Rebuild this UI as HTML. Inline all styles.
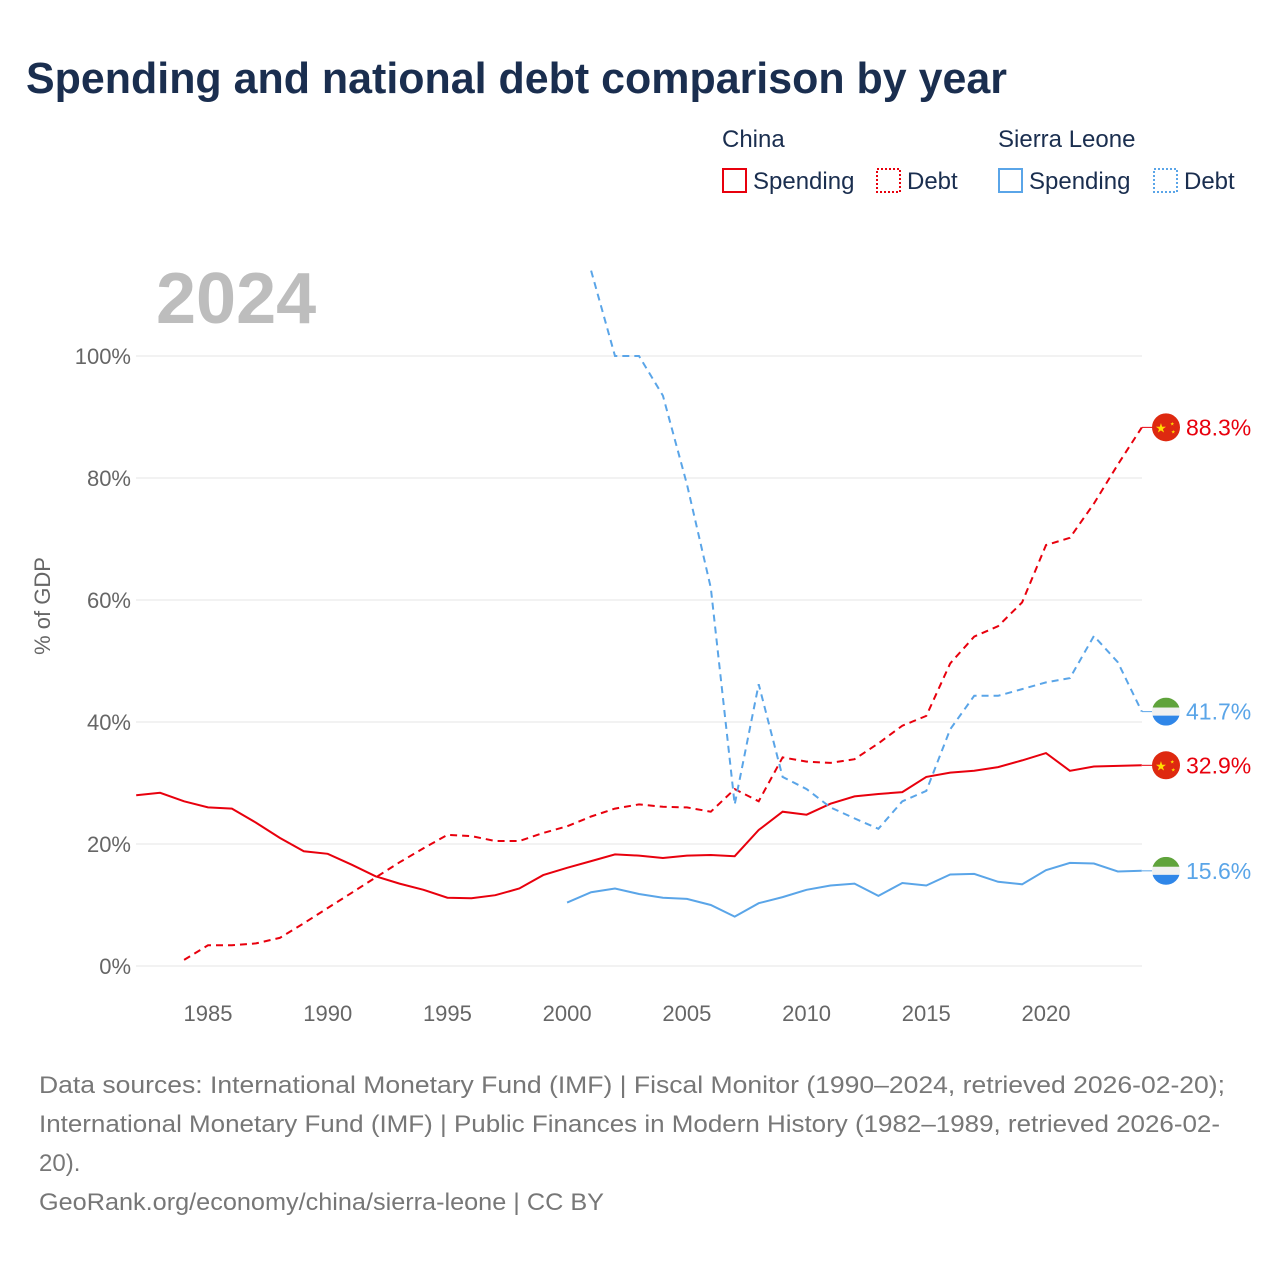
<!DOCTYPE html>
<html><head><meta charset="utf-8"><style>
body{margin:0;background:#fff;font-family:"Liberation Sans",sans-serif}
svg text{font-family:"Liberation Sans",sans-serif}
</style></head><body>
<svg id="chart" width="1280" height="1280" viewBox="0 0 1280 1280">
<text x="26" y="93" font-size="44" font-weight="bold" fill="#1a2e4f" textLength="981" lengthAdjust="spacingAndGlyphs">Spending and national debt comparison by year</text>
<g font-size="24" fill="#1a2e4f">
<text x="722" y="147">China</text>
<text x="998" y="147">Sierra Leone</text>
<g><rect x="723" y="169" width="23" height="23" fill="none" stroke="#e8000d" stroke-width="2"/><text x="753" y="189">Spending</text></g>
<g><rect x="877" y="169" width="23" height="23" fill="none" stroke="#e8000d" stroke-width="2" stroke-dasharray="2,2"/><text x="907" y="189">Debt</text></g>
<g><rect x="999" y="169" width="23" height="23" fill="none" stroke="#5aa5e8" stroke-width="2"/><text x="1029" y="189">Spending</text></g>
<g><rect x="1154" y="169" width="23" height="23" fill="none" stroke="#5aa5e8" stroke-width="2" stroke-dasharray="2,2"/><text x="1184" y="189">Debt</text></g>
</g>
<text x="156" y="323" font-size="72" font-weight="bold" fill="#bdbdbd">2024</text>
<text transform="translate(50,606) rotate(-90)" text-anchor="middle" font-size="22" fill="#666">% of GDP</text>
<g id="grid"></g><g id="xt"></g><g id="lines"></g><g id="ends"></g>
<g font-size="24" fill="#777">
<text x="39" y="1093" textLength="1186" lengthAdjust="spacingAndGlyphs">Data sources: International Monetary Fund (IMF) | Fiscal Monitor (1990–2024, retrieved 2026-02-20);</text>
<text x="39" y="1132" textLength="1181" lengthAdjust="spacingAndGlyphs">International Monetary Fund (IMF) | Public Finances in Modern History (1982–1989, retrieved 2026-02-</text>
<text x="39" y="1171">20).</text>
<text x="39" y="1210" textLength="565" lengthAdjust="spacingAndGlyphs">GeoRank.org/economy/china/sierra-leone | CC BY</text>
</g>
</svg>
<script>
const yTicks=[0,20,40,60,80,100];
const xTicks=[1985,1990,1995,2000,2005,2010,2015,2020];
const chinaSpendStart=1982;
const chinaSpend=[28,28.4,27,26,25.8,23.5,21,18.8,18.4,16.6,14.7,13.5,12.5,11.2,11.1,11.6,12.7,14.9,16.1,17.2,18.3,18.1,17.7,18.1,18.2,18.0,22.3,25.3,24.8,26.6,27.8,28.2,28.5,31.0,31.7,32.0,32.6,33.7,34.9,32.0,32.7,32.8,32.9];
const chinaDebtStart=1984;
const chinaDebt=[1.0,3.4,3.4,3.7,4.6,7.0,9.5,12,14.5,17,19.3,21.5,21.3,20.5,20.5,21.8,22.9,24.5,25.8,26.5,26.1,26.0,25.3,29.0,27.0,34.2,33.5,33.3,33.9,36.5,39.4,41.0,49.6,54.0,55.7,59.6,69.0,70.2,75.8,82.2,88.3];
const slSpendStart=2000;
const slSpend=[10.4,12.1,12.7,11.8,11.2,11.0,10.0,8.1,10.3,11.3,12.5,13.2,13.5,11.5,13.6,13.2,15.0,15.1,13.8,13.4,15.7,16.9,16.8,15.5,15.6];
const slDebtStart=2001;
const slDebt=[114,100,100,93.5,79,62,26.5,46.2,31,29,26,24.2,22.5,27,28.7,38.8,44.3,44.3,45.4,46.5,47.2,54.1,49.8,41.7];
const NS='http://www.w3.org/2000/svg';
const X=yr=>208+(yr-1985)*(1046-208)/35;
const Y=v=>966-v*6.1;
function mk(tag,attrs,parent,txt){const e=document.createElementNS(NS,tag);for(const k in attrs)e.setAttribute(k,attrs[k]);if(txt!==undefined)e.textContent=txt;document.getElementById(parent).appendChild(e);return e;}
yTicks.forEach(t=>{
 const l=mk('line',{x1:136,x2:1142,y1:Y(t),y2:Y(t),stroke:'#e6e6e6','stroke-width':1},'grid');
 
 
 const tx=mk('text',{x:131,y:Y(t)+8,'text-anchor':'end','font-size':22,fill:'#666'},'grid',t+'%');
 
 
});
xTicks.forEach(t=>{
 const tx=mk('text',{x:X(t),y:1021,'text-anchor':'middle','font-size':22,fill:'#666'},'xt',t);
 
 
});
function line(arr,start,color,dash,name){
 const d=arr.map((v,i)=>(i?'L':'M')+X(start+i).toFixed(1)+','+Y(v).toFixed(1)).join('');
 const p=mk('path',{d:d,fill:'none',stroke:color,'stroke-width':2,'stroke-dasharray':dash},'lines');
 
 
}
line(chinaSpend,chinaSpendStart,'#e8000d','none','china-spending-line');
line(chinaDebt,chinaDebtStart,'#e8000d','7,5','china-debt-line');
line(slSpend,slSpendStart,'#5aa5e8','none','sl-spending-line');
line(slDebt,slDebtStart,'#5aa5e8','7,5','sl-debt-line');
function endLabel(v,color,flag,name){
 const y=Y(v),cx=1166;
 const g=mk('g',{},'ends');
 
 
 mk('line',{x1:1142,x2:cx-12,y1:y,y2:y,stroke:color,'stroke-width':1},'ends');
 if(flag==='cn'){
  mk('circle',{cx:cx,cy:y,r:14,fill:'#de2910'},'ends');
  mk('text',{x:cx-5,y:y+5,'text-anchor':'middle','font-size':13,fill:'#ffde00'},'ends','★');
  mk('text',{x:cx+4,y:y-2,'font-size':5,fill:'#ffde00'},'ends','★');
  mk('text',{x:cx+5,y:y+6,'font-size':5,fill:'#ffde00'},'ends','★');
 }else{
  const id='c'+Math.round(v*10);
  const cp=mk('clipPath',{id:id},'ends');cp.appendChild(document.createElementNS(NS,'circle'));
  cp.firstChild.setAttribute('cx',cx);cp.firstChild.setAttribute('cy',y);cp.firstChild.setAttribute('r',14);
  mk('rect',{x:cx-14,y:y-14,width:28,height:10,fill:'#5fa33b','clip-path':'url(#'+id+')'},'ends');
  mk('rect',{x:cx-14,y:y-4,width:28,height:8,fill:'#f0f0f0','clip-path':'url(#'+id+')'},'ends');
  mk('rect',{x:cx-14,y:y+4,width:28,height:10,fill:'#2f86e8','clip-path':'url(#'+id+')'},'ends');
 }
 const t=mk('text',{x:1186,y:y+8,'font-size':23,fill:color},'ends',v.toFixed(1)+'%');
 
 
}
endLabel(chinaDebt[chinaDebt.length-1],'#e8000d','cn','china-debt-end-label');
endLabel(chinaSpend[chinaSpend.length-1],'#e8000d','cn','china-spending-end-label');
endLabel(slDebt[slDebt.length-1],'#5aa5e8','sl','sl-debt-end-label');
endLabel(slSpend[slSpend.length-1],'#5aa5e8','sl','sl-spending-end-label');
</script>
</body></html>
